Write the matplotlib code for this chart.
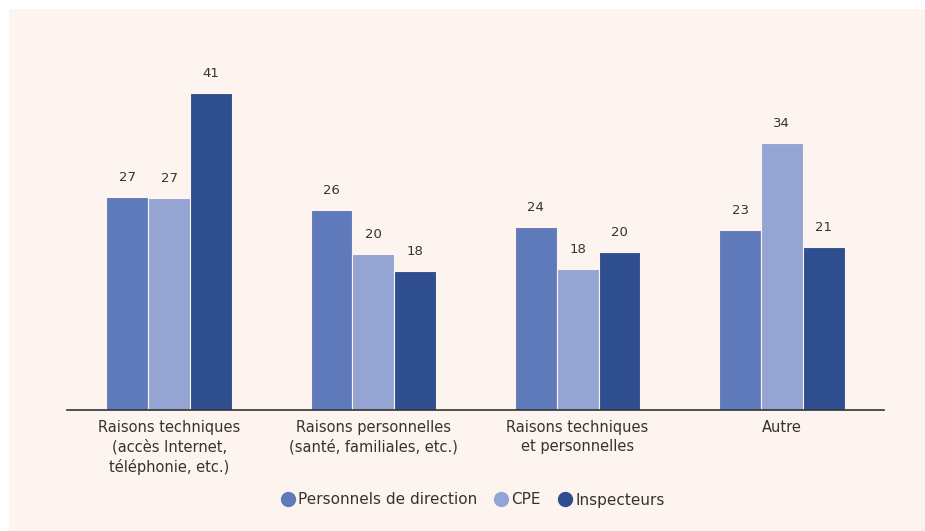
import matplotlib.pyplot as plt
from matplotlib.lines import Line2D
import numpy as np

categories = ["Raisons techniques\n(accès Internet,\ntéléphonie, etc.)",
              "Raisons personnelles\n(santé, familiales, etc.)",
              "Raisons techniques\net personnelles",
              "Autre"]
series_names = ["Personnels de direction", "CPE", "Inspecteurs"]
# bar heights (labels are the rounded values)
direction = [27.5, 25.8, 23.6, 23.2]
cpe = [27.35, 20.1, 18.2, 34.45]
inspecteurs = [40.9, 17.9, 20.4, 21.0]
direction_lbl = [27, 26, 24, 23]
cpe_lbl = [27, 20, 18, 34]
inspecteurs_lbl = [41, 18, 20, 21]

colors = ["#5f7aba", "#94a4d3", "#2f4e8f"]
bg = "#fef4ef"
txt = "#333333"

fig = plt.figure(figsize=(9.25, 5.31), dpi=100)
fig.patch.set_facecolor("white")
# cream panel
fig.patches.append(plt.Rectangle((9 / 925, 0), 1, 1 - 9 / 531, transform=fig.transFigure,
                                 facecolor=bg, edgecolor="none", zorder=-1))
ax = fig.add_axes([67 / 925, 1 - 410 / 531, 817 / 925, 387.5 / 531])
ax.set_facecolor("none")

x = np.arange(len(categories))
width = 0.205
for i, (vals, lbls, name) in enumerate(zip([direction, cpe, inspecteurs],
                                           [direction_lbl, cpe_lbl, inspecteurs_lbl], series_names)):
    pos = x + (i - 1) * width
    bars = ax.bar(pos, vals, width=width, color=colors[i], edgecolor=bg, linewidth=0.8, label=name)
    for b, v, l in zip(bars, vals, lbls):
        ax.text(b.get_x() + b.get_width() / 2, v + 1.7, str(l), ha="center", va="bottom",
                fontsize=9.5, color=txt)

ax.set_xlim(-0.5, 3.5)
ax.set_ylim(0, 50)
ax.set_yticks([])
ax.set_xticks(x)
ax.set_xticklabels(categories, fontsize=10.5, color=txt, linespacing=1.32)
ax.tick_params(axis="x", length=0, pad=7.5)
for s in ["top", "right", "left"]:
    ax.spines[s].set_visible(False)
ax.spines["bottom"].set_color("#333333")
ax.spines["bottom"].set_linewidth(1.2)

handles = [Line2D([], [], marker="o", linestyle="", markersize=10, color=c) for c in colors]
fig.legend(handles, series_names, loc="center", bbox_to_anchor=(473 / 925, 1 - 500 / 531),
           ncol=3, frameon=False, fontsize=11, handlelength=0.8, handletextpad=0.25,
           columnspacing=1.2, labelcolor=txt)

fig.savefig("out.png", dpi=100, facecolor=fig.get_facecolor())
